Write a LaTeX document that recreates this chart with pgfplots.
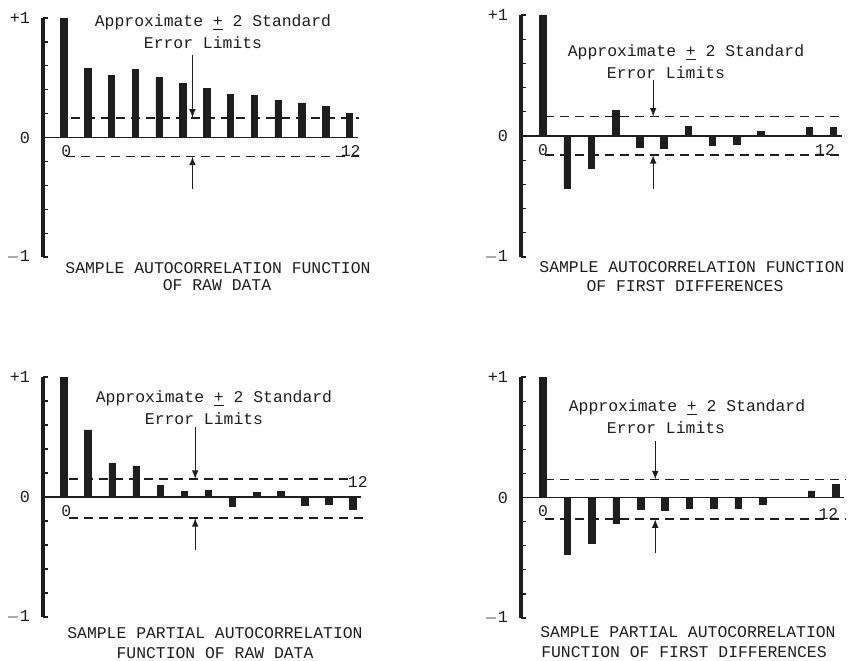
\documentclass[border=0pt]{standalone}
\usepackage{fontspec}
\setmainfont{Liberation Mono}
\usepackage{pgfplots}
\pgfplotsset{compat=1.18}
\definecolor{ink}{HTML}{1E1E1E}
\pgfplotsset{
  acfpanel/.style={
    scale only axis,
    anchor=south west,
    clip=false,
    ymin=-1, ymax=1,
    xmax=12.5,
    axis x line=none,
    axis y line*=left,
    y axis line style={line width=1.7pt, -, ink},
    ytick={-1,-0.8,-0.6,-0.4,-0.2,0,0.2,0.4,0.6,0.8,1},
    yticklabels={$-$1,,,,,0,,,,,+1},
    tick align=inside,
    major tick length=2.5pt,
    tick style={ink, line width=0.6pt},
    yticklabel style={font=\fontsize{8.4}{9}\selectfont, text=ink, xshift=-3pt},
    /pgf/number format/assume math mode=true,
  },
  bars/.style={ybar, bar width=0.27, fill=ink, draw=ink, line width=0.3pt},
  zero/.style={ink, line width=0.8pt},
  lim/.style={ink, line width=0.75pt, dash pattern=on 4.5pt off 3pt},
}
\newcommand{\lbl}{\fontsize{8.2}{9}\selectfont}
\begin{document}
\begin{tikzpicture}[x=0.5pt,y=0.5pt]
\useasboundingbox (0,0) rectangle (851,660);

% Panel 1
\begin{axis}[acfpanel, at={(21.5pt,201.5pt)}, xmin=-0.88, width=159.2pt, height=119.5pt]
\addplot[zero] coordinates {(-0.88,0) (12.35,0)};
\addplot[lim] coordinates {(0.3,0.165) (12.4,0.165)};
\addplot[lim] coordinates {(0.1,-0.16) (12.4,-0.16)};
\addplot[bars] coordinates {(0,1.0) (1,0.58) (2,0.52) (3,0.57) (4,0.50) (5,0.45) (6,0.41) (7,0.36) (8,0.35) (9,0.31) (10,0.29) (11,0.26) (12,0.20)};
\draw[ink, line width=0.5pt, -latex] (axis cs:5.4,0.69) -- (axis cs:5.4,0.165);
\draw[ink, line width=0.5pt, -latex] (axis cs:5.4,-0.43) -- (axis cs:5.4,-0.16);
\node[ink, font=\lbl, anchor=north] at (axis cs:0.1,-0.01) {0};
\node[ink, font=\lbl, anchor=north] at (axis cs:12.05,-0.01) {12};
\end{axis}
\node[ink, font=\lbl] at (213,637) {Approximate \underline{+} 2 Standard};
\node[ink, font=\lbl] at (203,617) {Error Limits};
\node[ink, font=\lbl] at (218,392) {SAMPLE AUTOCORRELATION FUNCTION};
\node[ink, font=\lbl] at (217,375) {OF RAW DATA};

% Panel 2
\begin{axis}[acfpanel, at={(260.5pt,201.5pt)}, xmin=-0.91, width=162.3pt, height=121pt]
\addplot[zero] coordinates {(-0.91,0) (12.35,0)};
\addplot[lim] coordinates {(0.1,0.16) (12.4,0.16)};
\addplot[lim] coordinates {(0.1,-0.157) (12.4,-0.157)};
\addplot[bars] coordinates {(0,1.0) (1,-0.43) (2,-0.27) (3,0.21) (4,-0.09) (5,-0.10) (6,0.08) (7,-0.08) (8,-0.07) (9,0.04) (10,0) (11,0.07) (12,0.07)};
\draw[ink, line width=0.5pt, -latex] (axis cs:4.55,0.46) -- (axis cs:4.55,0.16);
\draw[ink, line width=0.5pt, -latex] (axis cs:4.55,-0.44) -- (axis cs:4.55,-0.157);
\node[ink, font=\lbl, anchor=north] at (axis cs:0,-0.01) {0};
\node[ink, font=\lbl, anchor=north] at (axis cs:11.65,-0.01) {12};
\end{axis}
\node[ink, font=\lbl] at (686,607) {Approximate \underline{+} 2 Standard};
\node[ink, font=\lbl] at (666,587) {Error Limits};
\node[ink, font=\lbl] at (692,393) {SAMPLE AUTOCORRELATION FUNCTION};
\node[ink, font=\lbl] at (685,374) {OF FIRST DIFFERENCES};

% Panel 3
\begin{axis}[acfpanel, at={(21.5pt,21.5pt)}, xmin=-0.87, width=161pt, height=120pt]
\addplot[zero] coordinates {(-0.87,0) (12.35,0)};
\addplot[lim] coordinates {(0.2,0.15) (11.9,0.15)};
\addplot[lim] coordinates {(0.2,-0.175) (12.4,-0.175)};
\addplot[bars] coordinates {(0,1.0) (1,0.56) (2,0.28) (3,0.26) (4,0.10) (5,0.05) (6,0.06) (7,-0.075) (8,0.04) (9,0.045) (10,-0.065) (11,-0.06) (12,-0.10)};
\draw[ink, line width=0.5pt, -latex] (axis cs:5.45,0.58) -- (axis cs:5.45,0.15);
\draw[ink, line width=0.5pt, -latex] (axis cs:5.45,-0.44) -- (axis cs:5.45,-0.175);
\node[ink, font=\lbl, anchor=north] at (axis cs:0.1,-0.01) {0};
\node[ink, font=\lbl, anchor=south] at (axis cs:12.2,0.02) {12};
\end{axis}
\node[ink, font=\lbl] at (214,261) {Approximate \underline{+} 2 Standard};
\node[ink, font=\lbl] at (204,241) {Error Limits};
\node[ink, font=\lbl] at (215,27) {SAMPLE PARTIAL AUTOCORRELATION};
\node[ink, font=\lbl] at (215,7) {FUNCTION OF RAW DATA};

% Panel 4
\begin{axis}[acfpanel, at={(260.5pt,21pt)}, xmin=-0.9, width=163.5pt, height=120.5pt]
\addplot[zero] coordinates {(-0.9,0) (12.35,0)};
\addplot[lim] coordinates {(0.1,0.15) (12.4,0.15)};
\addplot[lim] coordinates {(0.1,-0.18) (12.4,-0.18)};
\addplot[bars] coordinates {(0,1.0) (1,-0.47) (2,-0.38) (3,-0.21) (4,-0.10) (5,-0.11) (6,-0.09) (7,-0.09) (8,-0.09) (9,-0.06) (10,0) (11,0.055) (12,0.11)};
\draw[ink, line width=0.5pt, -latex] (axis cs:4.6,0.47) -- (axis cs:4.6,0.15);
\draw[ink, line width=0.5pt, -latex] (axis cs:4.6,-0.46) -- (axis cs:4.6,-0.18);
\node[ink, font=\lbl, anchor=north] at (axis cs:0,-0.01) {0};
\node[ink, font=\lbl, anchor=north] at (axis cs:11.7,-0.03) {12};
\end{axis}
\node[ink, font=\lbl] at (687,252) {Approximate \underline{+} 2 Standard};
\node[ink, font=\lbl] at (666,232) {Error Limits};
\node[ink, font=\lbl] at (688,28) {SAMPLE PARTIAL AUTOCORRELATION};
\node[ink, font=\lbl] at (684,8) {FUNCTION OF FIRST DIFFERENCES};
\end{tikzpicture}
\end{document}
